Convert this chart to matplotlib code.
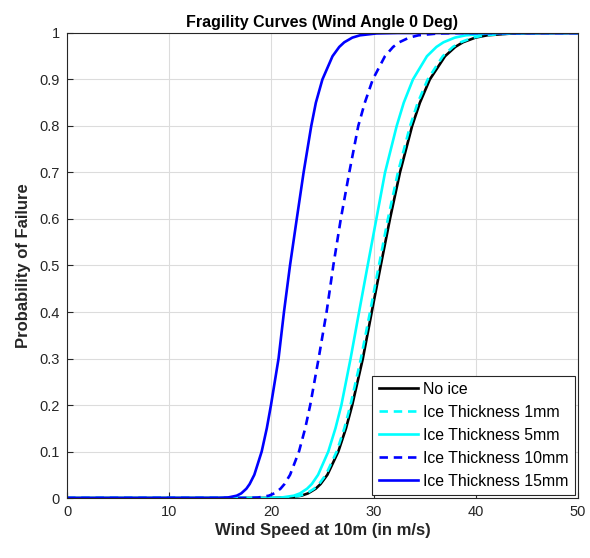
import matplotlib
matplotlib.use("Agg")
import matplotlib.pyplot as plt

plt.rcParams["font.family"] = ["Liberation Sans", "DejaVu Sans"]

# probability levels at which the wind speed of each curve was tabulated
prob_levels = [0.0, 0.0001, 0.001, 0.005, 0.01, 0.02, 0.03, 0.05, 0.1, 0.15, 0.2,
               0.3, 0.4, 0.5, 0.6, 0.7, 0.8, 0.85, 0.9, 0.95, 0.97, 0.98, 0.99,
               0.995, 0.999, 0.9999, 1.0]

# wind speed (m/s) reaching each probability level
speed_no_ice = [0, 20.14, 21.63, 22.93, 23.59, 24.33, 24.81, 25.48, 26.55, 27.30, 27.91,
                28.95, 29.82, 30.70, 31.60, 32.58, 33.77, 34.53, 35.50, 36.99, 37.99,
                38.74, 39.96, 41.11, 43.57, 46.79, 50]
speed_ice_1mm = [0, 20.02, 21.50, 22.79, 23.45, 24.18, 24.66, 25.33, 26.39, 27.14, 27.74,
                 28.76, 29.65, 30.52, 31.40, 32.38, 33.57, 34.32, 35.29, 36.77, 37.76,
                 38.51, 39.72, 40.86, 43.31, 46.51, 50]
speed_ice_5mm = [0, 19.58, 20.97, 22.19, 22.80, 23.49, 23.95, 24.57, 25.57, 26.27, 26.85,
                 27.75, 28.58, 29.42, 30.27, 31.12, 32.26, 32.95, 33.85, 35.22, 36.15,
                 36.84, 37.95, 39.01, 41.27, 44.21, 50]
speed_ice_10mm = [0, 17.46, 18.68, 19.75, 20.29, 20.89, 21.28, 21.83, 22.70, 23.31, 23.80,
                  24.62, 25.40, 26.06, 26.79, 27.62, 28.50, 29.14, 29.92, 31.11, 31.91,
                  32.51, 33.48, 34.39, 36.35, 38.90, 50]
speed_ice_15mm = [0, 14.71, 15.73, 16.60, 17.05, 17.55, 17.87, 18.33, 19.05, 19.55, 19.96,
                  20.70, 21.23, 21.82, 22.48, 23.15, 23.90, 24.35, 24.99, 25.98, 26.64,
                  27.13, 27.92, 28.67, 30.28, 32.36, 50]

curves = [
    ("No ice", speed_no_ice, "black", "-"),
    ("Ice Thickness 1mm", speed_ice_1mm, "#00ffff", "--"),
    ("Ice Thickness 5mm", speed_ice_5mm, "#00ffff", "-"),
    ("Ice Thickness 10mm", speed_ice_10mm, "#0000ff", "--"),
    ("Ice Thickness 15mm", speed_ice_15mm, "#0000ff", "-"),
]

fig = plt.figure(figsize=(5.9, 5.58), dpi=100)
ax = fig.add_axes([0.1136, 0.1075, 0.866, 0.8334])

for label, speeds, color, ls in curves:
    line, = ax.plot(speeds, prob_levels, color=color, linestyle=ls, lw=1.9, label=label)
    if ls == "--":
        line.set_dashes((3.2, 2.2))

ax.set_xlim(0, 50)
ax.set_ylim(0, 1)
ax.set_xticks(range(0, 51, 10))
ax.set_yticks([i / 10 for i in range(11)])
ax.set_yticklabels(["0"] + [f"{i / 10:g}" for i in range(1, 10)] + ["1"])
ax.grid(True, color="#dcdcdc", lw=0.8)
ax.set_axisbelow(True)
ax.tick_params(direction="in", length=4, labelsize=10.5, colors="#262626", pad=5)
for spine in ax.spines.values():
    spine.set_color("#262626")
    spine.set_linewidth(0.8)

ax.set_title("Fragility Curves (Wind Angle 0 Deg)", fontsize=11.5, fontweight="bold", pad=4)
ax.set_xlabel("Wind Speed at 10m (in m/s)", fontsize=12, fontweight="bold", color="#262626", labelpad=3)
ax.set_ylabel("Probability of Failure", fontsize=12, fontweight="bold", color="#262626", labelpad=6)

leg = ax.legend(loc="lower right", fontsize=11.4, handlelength=2.5, handletextpad=0.3,
                borderpad=0.4, labelspacing=0.5, borderaxespad=0.2, fancybox=False,
                framealpha=1, edgecolor="#262626")
leg.get_frame().set_linewidth(0.8)

fig.savefig("out.png", dpi=100)
